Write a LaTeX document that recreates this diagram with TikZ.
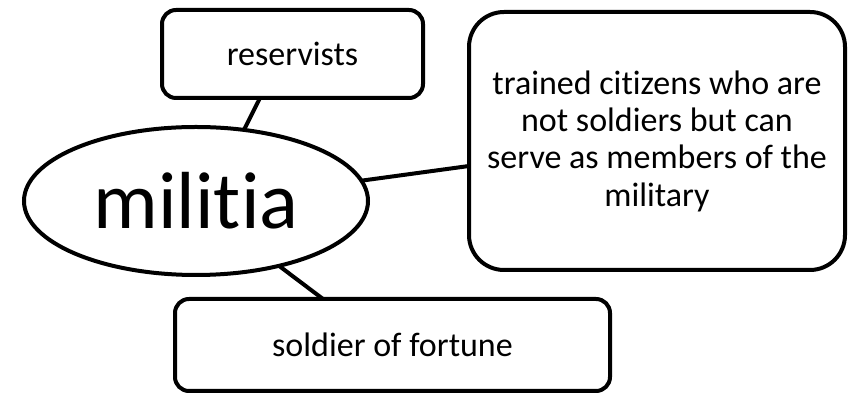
\documentclass[tikz,border=0pt]{standalone}
\usepackage{fontspec}
\setmainfont{Carlito}[Ligatures={NoCommon}]
\usetikzlibrary{shapes.geometric}
\begin{document}
\begin{tikzpicture}[x=1pt,y=1pt,
  every node/.style={line width=4pt,draw=black,fill=white,inner sep=0pt,outer sep=0pt},
  boxsm/.style={rounded corners=14pt,font=\fontsize{34}{37.3}\selectfont},
  conn/.style={line width=4pt}]
\useasboundingbox (0,0) rectangle (848,395);
\node[ellipse,minimum width=344pt,minimum height=148pt,font=\fontsize{81}{90}\selectfont] (mil) at (196,194) {militia};
\node[boxsm,minimum width=261pt,minimum height=88pt] (res) at (292.5,341) {reservists};
\node[rounded corners=35pt,minimum width=376pt,minimum height=258pt,align=center,font=\fontsize{34}{37.3}\selectfont] (rbox) at (657,254)
  {trained citizens who are\\not soldiers but can\\serve as members of the\\military};
\node[boxsm,minimum width=435pt,minimum height=92pt] (sol) at (392.5,50) {soldier of fortune};
\draw[conn] ([xshift=-32.5pt]res.south) -- (mil.56);
\draw[conn] (mil.7) -- ([yshift=-25pt]rbox.west);
\draw[conn] (mil.322) -- ([xshift=-69.5pt]sol.north);
\end{tikzpicture}
\end{document}
